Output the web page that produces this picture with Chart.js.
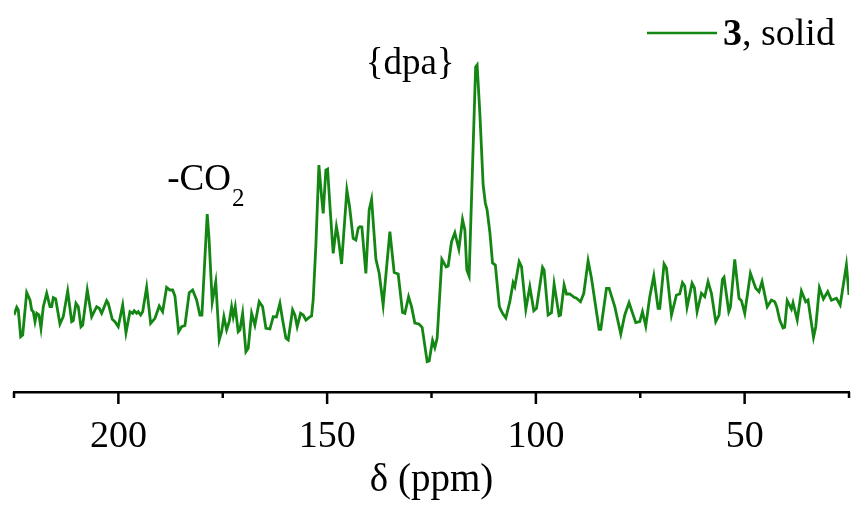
<!DOCTYPE html>
<html>
<head>
<meta charset="utf-8">
<script src="https://cdn.jsdelivr.net/npm/chart.js@4/dist/chart.umd.min.js"></script>
<style>
  html, body { margin: 0; padding: 0; background: #fff; }
  .chart-wrapper { width: 855px; height: 505px; }
</style>
</head>
<body>
<div class="chart-wrapper"><canvas id="nmr"></canvas></div>
<script>
// chemical shift (ppm), high field on the right
const shift = [
  225.00,224.35,223.97,223.40,222.92,221.96,221.17,220.76,220.38,219.97,
  219.56,219.01,218.54,217.98,217.17,216.38,215.97,215.59,215.02,213.99,
  213.20,212.14,211.18,210.80,210.16,209.60,208.96,208.55,207.45,206.40,
  205.20,204.58,204.00,202.80,202.42,201.46,200.82,200.03,198.97,198.18,
  197.23,196.58,196.20,195.62,195.24,194.66,194.18,193.23,192.27,191.24,
  190.21,189.40,188.44,187.65,
  187.00,186.45,185.57,184.85,184.06,183.03,182.21,181.26,180.47,179.99,
  178.72,178.31,177.52,176.68,175.84,175.27,174.72,174.07,173.45,172.88,
  172.49,172.01,171.30,170.89,170.24,169.45,168.90,168.09,167.30,166.27,
  165.45,164.66,163.70,162.91,162.15,161.31,160.66,159.87,159.32,158.27,
  157.72,157.17,156.35,155.73,155.08,154.29,153.72,153.34,152.69,151.97,
  151.33,150.94,150.30,149.89,149.34,148.55,147.78,147.35,
  146.54,145.27,144.62,143.76,143.11,142.56,142.16,141.68,140.72,139.93,
  139.35,138.32,137.53,136.58,134.97,133.94,132.98,131.93,131.38,130.49,
  129.78,128.99,128.03,127.24,126.04,125.56,124.75,124.20,123.65,122.52,
  121.49,121.01,120.20,119.41,118.45,117.57,117.01,116.54,115.99,114.43,
  114.07,113.42,112.63,112.11,111.68,111.03,110.38,109.71,108.75,107.99,
  107.20,
  106.24,105.45,105.04,104.01,103.44,102.41,101.45,100.49,99.85,98.41,
  98.03,97.07,96.26,95.63,94.44,94.10,93.24,92.66,91.87,90.84,
  90.27,89.31,88.52,87.49,86.68,84.86,84.45,83.09,82.46,81.10,
  79.66,78.71,77.68,77.10,76.07,75.11,74.47,73.68,72.72,71.76,
  70.73,70.32,69.30,68.72,67.52,66.33,65.54,
  64.89,64.34,63.79,62.59,62.02,61.39,60.34,59.55,58.76,57.95,
  56.92,56.13,55.31,54.93,53.80,53.40,52.37,51.34,50.76,49.97,
  48.61,47.34,46.55,45.83,44.58,43.58,42.79,42.31,41.59,40.80,
  40.40,39.80,38.79,38.41,37.40,36.40,35.37,34.82,33.50,32.97,
  32.09,31.13,30.10,29.21,28.02,27.11,25.62,25.00
]

// intensity (arb. units) at each shift above
const intensity = [
  77,84.7,82,55.3,57,99.3,92,82,80.3,70.3,
  78.7,77,63.7,85.3,98.7,85.3,85.3,94.3,93,68,
  75.3,101,70.3,71.3,88.7,85.3,65.3,67,102,75.3,
  85.3,83.7,78.7,91.3,88.7,72.7,70.3,65.3,87,59.3,
  80.3,78.7,81.3,78.7,80.3,77,80.3,104.7,68.7,73.7,
  86,80.3,104.7,102,
  102,96,60.3,65.3,66.5,99.3,102,92,77,77,
  178,155.3,90,110,52,60.3,75.3,62,70.3,85.3,
  75.3,85.3,60.3,62,78.7,40.3,43.7,78.7,67,90.3,
  85.3,63.7,63,75.3,75,88.7,72,53.7,52,82,
  77,65.3,78.7,77,72,74.7,76,92,147,227,
  195.3,178.7,222,223,187,138.7,165.5,155.3,
  128,202,185.3,153.7,152,163.7,165.3,165,118.5,182,
  192.5,133,118.7,87,160.3,119.5,118,79.5,78.7,95.3,
  85.3,69,68,64.7,30.3,31,51.5,44.3,53.7,132.7,
  125,126,150.3,159.3,143,172.5,162,122,116,325,
  327,279,207,189,182,160,129,127,85.3,78.7,
  74,
  90.3,109.3,105.3,130.3,125.3,82.7,105.3,81.3,83.7,124.7,
  122,77,79.3,108,76.3,77,107,98,98,94.7,
  93.7,90.3,98.7,131.3,113.7,62.7,62.7,103.7,103.7,85.3,
  58,77,89.3,82,69.3,70.3,80.3,66,95.3,116,
  83.7,83.7,128,123.7,77,97,98,
  109.3,106,84.7,108.7,104,80.3,98.7,95.3,110.3,98.7,
  70.3,77,112.7,114.7,80.3,84.7,132.7,93.7,91.3,78.7,
  118.7,103.7,100.3,110.3,85.3,92,90.3,85.3,72,64,
  64.7,91.3,83,89.3,72,101,90.3,92,54.7,65,
  104.3,93,100.3,91.7,93.7,87,127,97
]

const labelledTicks = [200, 150, 100, 50]
const seriesName = ["3", ", solid"]
const carboxylPpm = 178.72
const dpaPpm = 114.07

const serif = "'Liberation Serif', 'Times New Roman', serif"
const lineColor = "#138613"

// draws the outward ticks, the legend entry and the peak labels
const decorations = {
  id: "decorations",
  afterDraw: (chart) => {
    const ctx = chart.ctx
    const xs = chart.scales.x
    const axisY = chart.chartArea.bottom

    ctx.save()
    ctx.strokeStyle = "#000"
    ctx.lineWidth = 2.5
    xs.ticks.forEach((t) => {
      const px = xs.getPixelForValue(t.value)
      const len = t.value % 50 === 0 ? 12 : 6
      ctx.beginPath()
      ctx.moveTo(px, axisY)
      ctx.lineTo(px, axisY + len)
      ctx.stroke()
    })

    // legend
    ctx.strokeStyle = lineColor
    ctx.lineWidth = 2.5
    ctx.beginPath()
    ctx.moveTo(647, 33)
    ctx.lineTo(717, 33)
    ctx.stroke()
    ctx.fillStyle = "#000"
    ctx.textBaseline = "alphabetic"
    ctx.textAlign = "left"
    ctx.font = `bold 38px ${serif}`
    ctx.fillText(seriesName[0], 723, 45)
    const w = ctx.measureText(seriesName[0]).width
    ctx.font = `38px ${serif}`
    ctx.fillText(seriesName[1], 723 + w, 45)

    // -CO2 label
    const coX = xs.getPixelForValue(carboxylPpm) - 40
    ctx.font = `37px ${serif}`
    ctx.fillText("-CO", coX, 190)
    const coW = ctx.measureText("-CO").width
    ctx.font = `25px ${serif}`
    ctx.fillText("2", coX + coW + 1, 206)

    // {dpa} label
    ctx.font = `37px ${serif}`
    ctx.textAlign = "center"
    ctx.fillText("{dpa}", xs.getPixelForValue(dpaPpm) - 67, 74)
    ctx.restore()
  },
}

const points = shift.map((s, i) => ({ x: s, y: intensity[i] }))

new Chart(document.getElementById("nmr").getContext("2d"), {
  type: "line",
  data: {
    datasets: [
      {
        label: seriesName.join(""),
        data: points,
        borderColor: lineColor,
        borderWidth: 2.8,
        pointRadius: 0,
        tension: 0,
        fill: false,
      },
    ],
  },
  options: {
    responsive: true,
    maintainAspectRatio: false,
    animation: false,
    layout: { padding: { top: 10, left: 14, right: 6, bottom: 0 }, autoPadding: false },
    plugins: {
      legend: { display: false },
      tooltip: { enabled: false },
    },
    scales: {
      x: {
        type: "linear",
        min: 25,
        max: 225,
        reverse: true,
        grid: { display: false, drawTicks: true, tickLength: 22 },
        border: { display: true, color: "#000", width: 2.5 },
        ticks: {
          stepSize: 25,
          autoSkip: false,
          maxRotation: 0,
          minRotation: 0,
          padding: 0,
          color: "#000",
          font: { family: serif, size: 38 },
          callback: (v) => (labelledTicks.includes(v) ? String(v) : ""),
        },
        title: {
          display: true,
          text: "δ (ppm)",
          color: "#000",
          font: { family: serif, size: 39 },
          padding: { top: 0, bottom: 1 },
        },
        afterFit: (scale) => {
          scale.height = 113
        },
      },
      y: {
        display: false,
        min: 0,
        max: 382,
      },
    },
  },
  plugins: [decorations],
})
</script>
</body>
</html>
